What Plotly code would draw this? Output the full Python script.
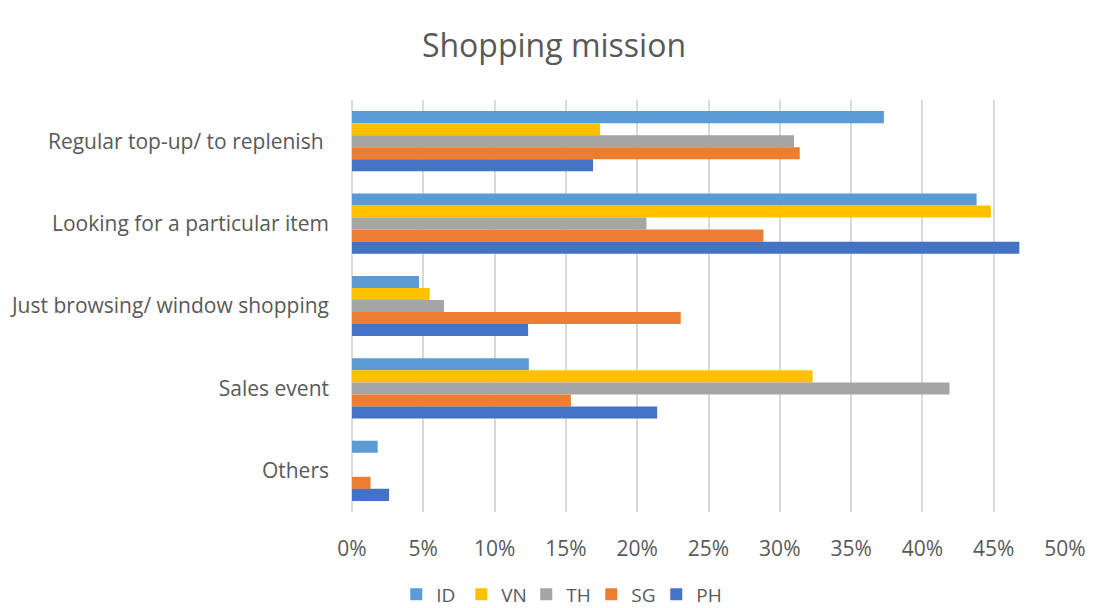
import plotly.graph_objects as go

categories = ["Regular top-up/ to replenish ", "Looking for a particular item",
              "Just browsing/ window shopping", "Sales event", "Others"]
series_names = ["ID", "VN", "TH", "SG", "PH"]
id_vals = [37.3, 43.8, 4.7, 12.4, 1.8]
vn_vals = [17.4, 44.8, 5.45, 32.3, 0]
th_vals = [31.0, 20.65, 6.45, 41.9, 0]
sg_vals = [31.4, 28.85, 23.05, 15.35, 1.3]
ph_vals = [16.9, 46.8, 12.35, 21.4, 2.6]
colors = ["#5B9BD5", "#FFC000", "#A5A5A5", "#ED7D31", "#4472C4"]
tick_vals = [0, 5, 10, 15, 20, 25, 30, 35, 40, 45, 50]
tick_text = [f"{v}%" for v in tick_vals]

fig = go.Figure()
for name, vals, c in zip(series_names, [id_vals, vn_vals, th_vals, sg_vals, ph_vals], colors):
    fig.add_trace(go.Bar(y=categories, x=vals, name=name, orientation="h",
                         marker=dict(color=c, line=dict(width=0))))

fig.update_layout(
    barmode="group", bargap=0.27, bargroupgap=0,
    width=1108, height=608,
    margin=dict(l=352, r=43, t=100, b=96, autoexpand=False),
    paper_bgcolor="white", plot_bgcolor="white",
    font=dict(family="Open Sans", color="#595959", size=20),
    title=dict(text="Shopping mission", x=0.5, xanchor="center", y=0.925, yanchor="middle",
               font=dict(size=32, color="#595959")),
    xaxis=dict(range=[0, 50], tickvals=tick_vals, ticktext=tick_text,
               showgrid=True, gridcolor="#d9d9d9", gridwidth=1.5,
               zeroline=True, zerolinecolor="#d9d9d9", zerolinewidth=1.5,
               showline=False, ticks="", ticklabelstandoff=22,
               tickfont=dict(size=21, color="#595959")),
    yaxis=dict(autorange="reversed", showgrid=False, ticks="", showline=False,
               ticklabelstandoff=22, tickfont=dict(size=21, color="#595959")),
    legend=dict(orientation="h", x=0.29, xanchor="center", y=-0.2, yanchor="middle",
                font=dict(size=19, color="#595959"), traceorder="normal",
                entrywidth=20, entrywidthmode="pixels"),
)

fig.write_html("out.html")
